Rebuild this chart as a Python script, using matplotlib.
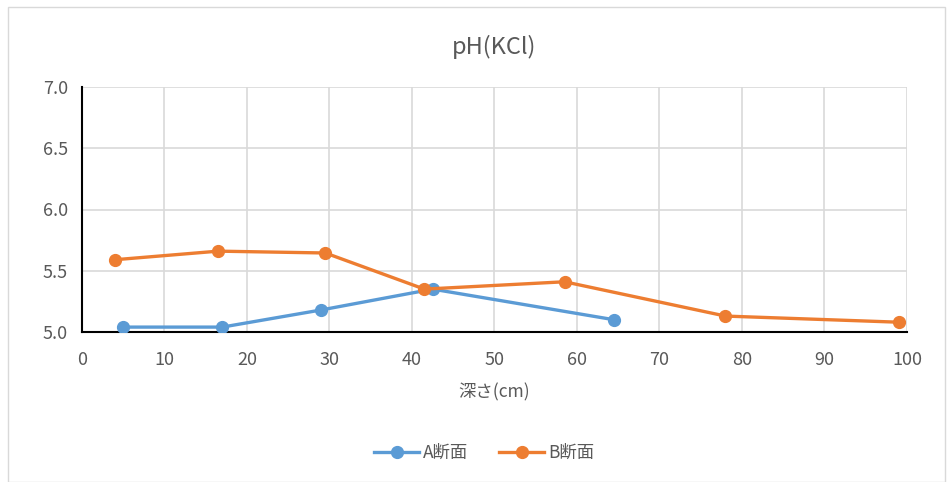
import matplotlib
matplotlib.use("Agg")
import matplotlib.pyplot as plt
from matplotlib.patches import Rectangle

plt.rcParams['font.family'] = ['Noto Sans CJK JP', 'DejaVu Sans']

title = "pH(KCl)"
xlabel = "深さ(cm)"
series_names = ["A断面", "B断面"]
a_depth = [5, 17, 29, 42.5, 64.5]
a_ph = [5.04, 5.04, 5.18, 5.35, 5.10]
b_depth = [4, 16.5, 29.5, 41.5, 58.5, 78, 99]
b_ph = [5.59, 5.66, 5.645, 5.35, 5.41, 5.13, 5.08]
xticks = list(range(0, 101, 10))
yticks = [5.0, 5.5, 6.0, 6.5, 7.0]

W, H = 953, 482
fig = plt.figure(figsize=(W/100, H/100), dpi=100)
fig.patches.append(Rectangle((8/W, 0), (945-8)/W, (H-7)/H, transform=fig.transFigure,
                             fill=False, edgecolor='#d9d9d9', linewidth=1))
ax = fig.add_axes([82/W, (H-332)/H, (907-82)/W, (332-87)/H])

blue = '#5b9bd5'
orange = '#ed7d31'
ax.plot(a_depth, a_ph, color=blue, lw=2.4, marker='o', ms=8.5, label=series_names[0], zorder=3)
ax.plot(b_depth, b_ph, color=orange, lw=2.4, marker='o', ms=8.5, label=series_names[1], zorder=3)

ax.set_xlim(0, 100)
ax.set_ylim(5.0, 7.0)
ax.set_xticks(xticks)
ax.set_yticks(yticks)
ax.set_yticklabels([f"{v:.1f}" for v in yticks])
ax.grid(True, color='#d9d9d9', lw=1.2)
ax.set_axisbelow(True)
for s in ['top', 'right']:
    ax.spines[s].set_visible(False)
for s in ['left', 'bottom']:
    ax.spines[s].set_color('black')
    ax.spines[s].set_linewidth(1.5)
ax.tick_params(axis='x', length=0, labelsize=13, labelcolor='#595959', pad=14)
ax.tick_params(axis='y', length=0, labelsize=13, labelcolor='#595959', pad=10)
ax.set_xlabel(xlabel, fontsize=12.5, color='#595959', labelpad=10)
ax.set_title(title, fontsize=17, color='#595959', pad=24)

fig.legend(loc='center', bbox_to_anchor=(484/W, (H-453)/H), ncol=2, frameon=False,
           fontsize=12.5, labelcolor='#595959', handlelength=2.6, columnspacing=1.8, handletextpad=0.2)

fig.savefig('out.png', dpi=100)
